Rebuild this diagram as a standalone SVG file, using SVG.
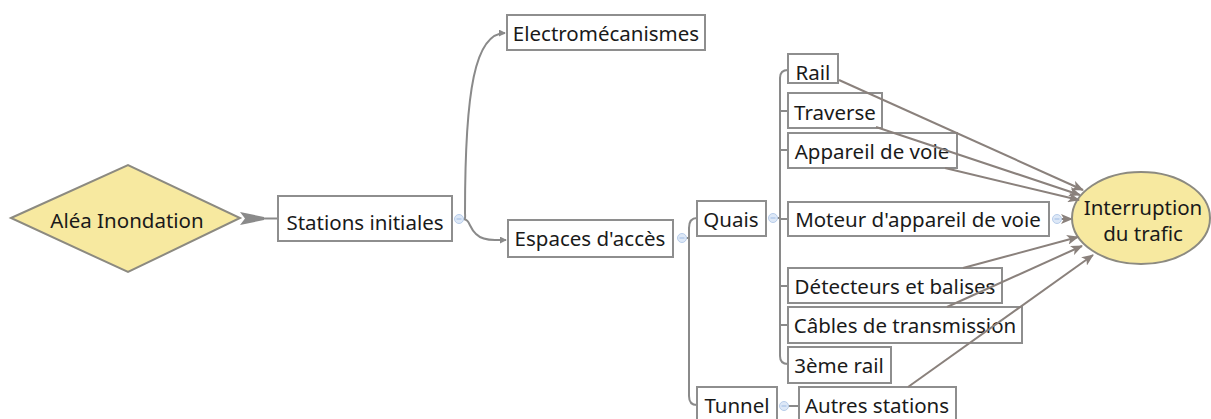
<svg xmlns="http://www.w3.org/2000/svg" width="1211" height="419" viewBox="0 0 1211 419">
<style>
.box{fill:#fff;stroke:#8e8e8e;stroke-width:2}
.shape{fill:#f7e9a0;stroke:#8c8a80;stroke-width:2}
.t{font-family:"Noto Sans","Open Sans",sans-serif;font-size:20.5px;fill:#1a1a1a}
.tree{fill:none;stroke:#8a8a8a;stroke-width:2}
.eff{fill:none;stroke:#8a817c;stroke-width:2;marker-end:url(#ah)}
.dot{fill:#dde8f7;stroke:#b8cdea;stroke-width:1}
.dm{stroke:#a9c2e6;stroke-width:1.2}
</style>
<defs>
<marker id="ah" viewBox="0 0 12 10" refX="11" refY="5" markerWidth="12" markerHeight="10" markerUnits="userSpaceOnUse" orient="auto">
<path d="M0,0 L12,5 L0,10 L3,5 z" fill="#8a817c"/>
</marker>
<marker id="sh" viewBox="0 0 8 8" refX="7" refY="4" markerWidth="7" markerHeight="7" markerUnits="userSpaceOnUse" orient="auto">
<path d="M0,0 L8,4 L0,8 z" fill="#8a8a8a"/>
</marker>
</defs>

<g id="connectors">
<path d="M240,212 L264,217 L264,220 L240,225 L245,218.5 z" fill="#8a8a8a"/>
<path d="M262,218.5 L278,218.5" class="tree"/>
<path d="M463,219 C466,219 465,217 465,212 C465,90 475,33 505,33" class="tree" marker-end="url(#sh)"/>
<path d="M463,219 C470,219 469,228 476,234 C481,239 488,240 495,240 L506,240" class="tree" marker-end="url(#sh)"/>
<path d="M686,238 L689,238 M697,218 Q689,218 689,228 L689,396 Q689,405 697,405" class="tree"/>
<path d="M777,218 L780,218 M788,70 Q780,70 780,78 L780,356 Q780,364 788,364 M780,111 L788,111 M780,150 L788,150 M780,219 L788,219 M780,286 L788,286 M780,325 L788,325" class="tree"/>
<path d="M788,406 L799,406" class="tree"/>
<path d="M1061,219 L1072,219" class="eff"/>
</g>

<g id="n-alea"><polygon class="shape" points="11,218 128,165 240,218 128,272"/><text class="t" x="127" y="228" text-anchor="middle">Aléa Inondation</text></g>
<g id="n-stations"><rect class="box" x="278" y="196" width="174" height="45"/><text class="t" x="365" y="230" text-anchor="middle">Stations initiales</text></g>
<g id="n-electro"><rect class="box" x="507" y="15" width="198" height="35"/><text class="t" x="606" y="41" text-anchor="middle">Electromécanismes</text></g>
<g id="n-espaces"><rect class="box" x="508" y="220" width="165" height="37"/><text class="t" x="590" y="246" text-anchor="middle">Espaces d'accès</text></g>
<g id="n-quais"><rect class="box" x="697" y="201" width="69" height="35"/><text class="t" x="731" y="227" text-anchor="middle">Quais</text></g>
<g id="n-tunnel"><rect class="box" x="697" y="387" width="80" height="34"/><text class="t" x="737" y="413" text-anchor="middle">Tunnel</text></g>
<g id="n-autres"><rect class="box" x="799" y="387" width="157" height="34"/><text class="t" x="877" y="413" text-anchor="middle">Autres stations</text></g>
<g id="n-rail"><rect class="box" x="788" y="54" width="50" height="29"/><text class="t" x="813" y="80" text-anchor="middle">Rail</text></g>
<g id="n-traverse"><rect class="box" x="788" y="93" width="94" height="35"/><text class="t" x="835" y="120" text-anchor="middle">Traverse</text></g>
<g id="n-appareil"><rect class="box" x="788" y="133" width="169" height="35"/><text class="t" x="872" y="159" text-anchor="middle">Appareil de voie</text></g>
<g id="n-moteur"><rect class="box" x="788" y="202" width="261" height="34"/><text class="t" x="918" y="227" text-anchor="middle">Moteur d'appareil de voie</text></g>
<g id="n-detecteurs"><rect class="box" x="788" y="268" width="214" height="35"/><text class="t" x="895" y="294" text-anchor="middle">Détecteurs et balises</text></g>
<g id="n-cables"><rect class="box" x="788" y="307" width="234" height="36"/><text class="t" x="905" y="333" text-anchor="middle">Câbles de transmission</text></g>
<g id="n-3eme"><rect class="box" x="788" y="347" width="103" height="36"/><text class="t" x="839" y="373" text-anchor="middle">3ème rail</text></g>
<g id="n-interruption"><ellipse class="shape" cx="1141" cy="218" rx="69" ry="46"/><text class="t" x="1143" y="215" text-anchor="middle">Interruption</text><text class="t" x="1143" y="241" text-anchor="middle">du trafic</text></g>

<g id="effects">
<path d="M839,80 L1083,190" class="eff"/>
<path d="M876,127 L1080,195" class="eff"/>
<path d="M945,168 L1079,200" class="eff"/>
<path d="M963,268 L1078,237" class="eff"/>
<path d="M947,307 L1082,246" class="eff"/>
<path d="M908,387 L1093,255" class="eff"/>
</g>

<g id="toggles">
<circle class="dot" cx="459" cy="219" r="4.5"/><path class="dm" d="M456.5,219 L461.5,219"/>
<circle class="dot" cx="682" cy="238" r="4.5"/><path class="dm" d="M679.5,238 L684.5,238"/>
<circle class="dot" cx="773" cy="218" r="4.5"/><path class="dm" d="M770.5,218 L775.5,218"/>
<circle class="dot" cx="784" cy="406" r="4.5"/><path class="dm" d="M781.5,406 L786.5,406"/>
<circle class="dot" cx="1057" cy="219" r="4.5"/><path class="dm" d="M1054.5,219 L1059.5,219"/>
</g>
</svg>
